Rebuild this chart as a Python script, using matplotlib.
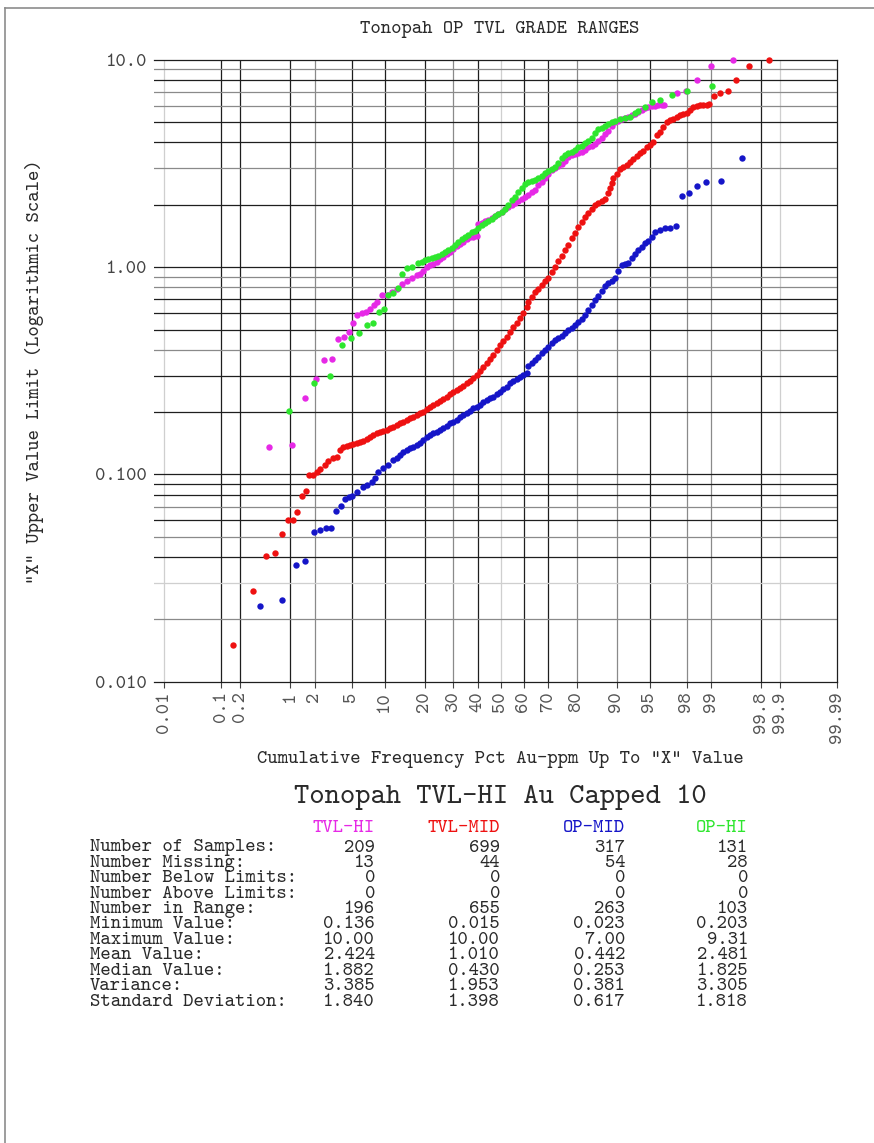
import math
import numpy as np
import matplotlib
matplotlib.use("Agg")
import matplotlib.pyplot as plt
from matplotlib.lines import Line2D

plt.rcParams['font.family'] = ['cmtt10', 'DejaVu Sans Mono']

# cumulative frequency (percent) and grade (Au ppm)
tvl_hi_pct = [0.52, 1.04, 1.52, 2.06, 2.55, 3.08, 3.57, 4.16, 4.67, 5.16,
              5.64, 6.21, 6.77, 7.41, 8.06, 8.61, 9.40, 10.36, 11.39, 12.50,
              13.67, 14.92, 16.24, 17.63, 18.59, 19.59, 20.64, 21.70, 22.78, 23.93,
              25.08, 26.25, 27.49, 28.73, 29.98, 31.30, 32.60, 33.93, 35.31, 36.68,
              38.06, 39.50, 40.18, 41.64, 43.07, 44.50, 45.99, 47.44, 48.90, 50.40,
              51.85, 53.30, 54.80, 56.23, 57.67, 59.13, 60.55, 61.94, 63.36, 64.73,
              66.08, 67.44, 68.74, 70.02, 71.31, 72.54, 73.75, 74.95, 76.10, 77.22,
              78.34, 79.39, 80.41, 81.43, 82.40, 83.32, 84.25, 85.11, 85.94, 86.76,
              87.53, 88.26, 88.99, 89.66, 90.30, 90.93, 91.51, 92.06, 92.60, 93.10,
              93.57, 94.03, 94.45, 94.85, 95.23, 95.58, 95.91, 96.23, 96.44, 97.45,
              97.95, 98.48, 98.98, 99.49]
tvl_hi_val = [0.136, 0.138, 0.234, 0.289, 0.357, 0.359, 0.449, 0.462, 0.488, 0.536,
              0.588, 0.603, 0.610, 0.628, 0.657, 0.682, 0.734, 0.734, 0.762, 0.782,
              0.830, 0.861, 0.884, 0.917, 0.930, 0.959, 1.002, 1.021, 1.036, 1.059,
              1.095, 1.124, 1.158, 1.191, 1.231, 1.266, 1.294, 1.328, 1.368, 1.394,
              1.407, 1.422, 1.617, 1.640, 1.666, 1.696, 1.722, 1.761, 1.800, 1.847,
              1.904, 1.947, 1.997, 2.049, 2.088, 2.128, 2.176, 2.232, 2.300, 2.366,
              2.493, 2.587, 2.685, 2.817, 2.955, 3.021, 3.069, 3.138, 3.255, 3.404,
              3.481, 3.519, 3.559, 3.610, 3.692, 3.791, 3.858, 3.954, 4.053, 4.217,
              4.379, 4.558, 4.803, 5.020, 5.105, 5.174, 5.250, 5.327, 5.410, 5.507,
              5.631, 5.737, 5.847, 5.912, 5.978, 6.018, 6.046, 6.066, 6.066, 6.906,
              7.085, 7.981, 9.324, 10.0]

tvl_mid_pct = [0.155, 0.31, 0.47, 0.63, 0.77, 0.93, 1.08, 1.23, 1.39, 1.55, 1.72, 1.88,
               2.09, 2.29, 2.60, 2.83, 3.21, 3.54, 3.78, 4.09, 4.43, 4.78,
               5.16, 5.56, 5.99, 6.43, 6.92, 7.41, 7.94, 8.51, 9.09, 9.70,
               10.37, 11.04, 11.74, 12.50, 13.26, 14.06, 14.92, 15.78, 16.68, 17.63,
               18.59, 19.58, 20.64, 21.70, 22.78, 23.93, 25.08, 26.25, 27.49, 28.73,
               29.98, 31.30, 32.60, 33.93, 35.31, 36.68, 38.06, 39.50, 40.91, 42.33,
               43.81, 45.25, 46.70, 48.19, 49.65, 51.10, 52.60, 54.05, 55.50, 56.97,
               58.40, 59.82, 61.27, 61.94, 63.36, 64.73, 66.08, 67.44, 68.74, 70.02,
               71.31, 72.54, 73.75, 74.95, 76.10, 77.22, 78.34, 79.39, 80.41, 81.43,
               82.40, 83.32, 84.25, 85.11, 85.94, 86.76, 87.53, 88.26, 88.63, 88.99,
               89.31, 89.99, 90.61, 91.21, 91.80, 92.34, 92.85, 93.35, 93.80, 94.24,
               94.66, 95.04, 95.40, 95.76, 96.08, 96.37, 96.66, 96.93, 97.17, 97.40,
               97.62, 97.82, 98.00, 98.17, 98.33, 98.48, 98.62, 98.74, 98.86, 98.94,
               99.08, 99.23, 99.40, 99.54, 99.70, 99.85]
tvl_mid_val = [0.015, 0.0275, 0.0402, 0.0419, 0.0517, 0.0602, 0.0602, 0.0657, 0.0789, 0.0834, 0.0993, 0.0993,
               0.1031, 0.1058, 0.111, 0.1161, 0.1196, 0.1218, 0.1312, 0.1361, 0.1371, 0.1387,
               0.1398, 0.1413, 0.1434, 0.1455, 0.1488, 0.1521, 0.155, 0.158, 0.1597, 0.1614,
               0.1643, 0.167, 0.170, 0.1732, 0.1765, 0.1785, 0.1825, 0.1866, 0.190, 0.1929,
               0.1973, 0.2008, 0.2062, 0.2115, 0.217, 0.2212, 0.2269, 0.232, 0.2371, 0.2436,
               0.249, 0.2554, 0.262, 0.268, 0.2752, 0.2833, 0.2929, 0.3028, 0.3145, 0.3288,
               0.3438, 0.3594, 0.377, 0.3985, 0.420, 0.4418, 0.4619, 0.4884, 0.5129, 0.5397,
               0.5667, 0.5991, 0.6446, 0.6815, 0.7203, 0.7566, 0.785, 0.818, 0.8551, 0.8899,
               0.945, 1.006, 1.068, 1.137, 1.207, 1.28, 1.379, 1.458, 1.569, 1.659,
               1.742, 1.821, 1.904, 1.997, 2.049, 2.088, 2.128, 2.274, 2.404, 2.541,
               2.685, 2.817, 2.968, 3.035, 3.113, 3.209, 3.340, 3.453, 3.570, 3.651,
               3.791, 3.902, 4.034, 4.345, 4.508, 4.749, 5.037, 5.117, 5.191, 5.308,
               5.428, 5.488, 5.531, 5.737, 5.951, 6.018, 6.066, 6.066, 6.066, 6.114,
               6.724, 6.906, 7.085, 7.981, 9.324, 10.0]

op_mid_pct = [0.385, 0.77, 1.17, 1.52, 1.96, 2.30, 2.69, 3.05, 3.45, 3.84,
              4.23, 4.67, 5.04, 5.64, 6.35, 6.92, 7.68, 8.22, 8.79, 9.70,
              10.7, 11.74, 12.50, 13.26, 14.06, 14.92, 15.78, 16.67, 17.63, 18.59,
              19.59, 20.64, 21.70, 22.78, 23.93, 25.08, 26.25, 27.49, 28.73, 29.98,
              31.30, 32.60, 33.93, 35.31, 36.68, 38.06, 39.50, 40.91, 42.33, 43.81,
              45.25, 46.70, 48.19, 49.65, 51.10, 52.60, 54.05, 55.50, 56.97, 58.40,
              59.82, 61.27, 61.94, 63.36, 64.73, 66.08, 67.44, 68.74, 70.02, 71.31,
              72.54, 73.75, 74.95, 76.10, 77.22, 78.34, 79.39, 80.41, 81.43, 82.40,
              83.32, 84.25, 85.11, 85.94, 86.76, 87.53, 88.26, 88.99, 89.66, 90.30,
              90.93, 91.51, 92.06, 92.60, 93.10, 93.57, 94.03, 94.45, 94.85, 95.23,
              95.58, 96.08, 96.52, 96.93, 97.34, 97.72, 98.12, 98.48, 98.84, 99.25, 99.616]
op_mid_val = [0.0231, 0.0249, 0.0366, 0.0383, 0.0525, 0.0541, 0.0549, 0.0549, 0.0666, 0.0704,
              0.0764, 0.078, 0.0786, 0.0825, 0.0867, 0.0889, 0.0923, 0.0958, 0.103, 0.107,
              0.111, 0.117, 0.1207, 0.1241, 0.1279, 0.1312, 0.1337, 0.1361, 0.1391, 0.1422,
              0.1466, 0.1521, 0.1555, 0.1585, 0.1611, 0.1638, 0.1675, 0.1713, 0.1765, 0.1797,
              0.1837, 0.1887, 0.1929, 0.1973, 0.2031, 0.2085, 0.2123, 0.2175, 0.2228, 0.2278,
              0.233, 0.2371, 0.2443, 0.2506, 0.2583, 0.265, 0.2752, 0.2814, 0.2877, 0.2942,
              0.3018, 0.3096, 0.3336, 0.3461, 0.3566, 0.3698, 0.3841, 0.3971, 0.4119, 0.432,
              0.4452, 0.4567, 0.467, 0.4797, 0.4976, 0.5105, 0.5244, 0.542, 0.5604, 0.5878,
              0.6234, 0.6568, 0.6944, 0.7261, 0.765, 0.8143, 0.842, 0.8608, 0.8841, 0.9618,
              1.021, 1.036, 1.051, 1.108, 1.162, 1.215, 1.256, 1.304, 1.343, 1.394,
              1.484, 1.512, 1.541, 1.551, 1.581, 2.199, 2.289, 2.474, 2.569, 2.616, 3.378]

op_hi_pct = [0.97, 1.96, 2.95, 3.94, 4.86, 5.89, 6.92, 7.94, 8.97, 9.84,
             10.69, 11.61, 12.87, 13.67, 14.92, 16.24, 18.09, 19.10, 20.11, 21.15,
             22.25, 23.35, 24.49, 25.68, 26.87, 28.09, 29.37, 30.64, 31.93, 33.28,
             34.62, 35.97, 37.39, 38.78, 40.18, 41.64, 43.07, 44.50, 45.99, 47.44,
             48.90, 50.40, 51.85, 53.30, 54.80, 56.23, 57.67, 59.13, 60.55, 61.94,
             63.36, 64.73, 66.08, 67.44, 68.74, 70.02, 71.31, 72.54, 73.75, 74.95,
             76.10, 77.22, 78.34, 79.39, 80.41, 81.43, 82.40, 83.32, 84.25, 85.11,
             85.94, 86.76, 87.53, 88.26, 88.99, 89.66, 90.61, 91.51, 92.34, 93.10,
             93.57, 94.45, 95.23, 96.08, 97.05, 98.04, 99.03]
op_hi_val = [0.203, 0.277, 0.2985, 0.4227, 0.4537, 0.483, 0.5244, 0.5398, 0.6079, 0.6262,
             0.7341, 0.7482, 0.791, 0.9273, 0.9878, 1.006, 1.051, 1.065, 1.083, 1.095,
             1.108, 1.120, 1.139, 1.158, 1.191, 1.217, 1.245, 1.280, 1.324, 1.361,
             1.400, 1.431, 1.471, 1.504, 1.555, 1.599, 1.635, 1.671, 1.718, 1.766,
             1.806, 1.847, 1.900, 1.986, 2.100, 2.189, 2.315, 2.412, 2.508, 2.564,
             2.606, 2.650, 2.710, 2.771, 2.849, 2.913, 2.978, 3.045, 3.183, 3.365,
             3.481, 3.559, 3.618, 3.699, 3.783, 3.867, 3.976, 4.088, 4.217, 4.443,
             4.645, 4.723, 4.803, 4.884, 4.994, 5.105, 5.191, 5.278, 5.327, 5.519,
             5.673, 5.965, 6.291, 6.411, 6.777, 7.085, 7.489]

series_names = ["TVL-HI", "TVL-MID", "OP-MID", "OP-HI"]
series_colors = ["#e629e6", "#ee1111", "#1515c8", "#2ee62e"]

pct_ticks = [0.01, 0.1, 0.2, 1, 2, 5, 10, 20, 30, 40, 50, 60, 70, 80, 90, 95, 98, 99, 99.8, 99.9, 99.99]
pct_labels = ["0.01", "0.1", "0.2", "1", "2", "5", "10", "20", "30", "40", "50", "60", "70",
              "80", "90", "95", "98", "99", "99.8", "99.9", "99.99"]
val_ticks = [0.01, 0.1, 1, 10]
val_labels = ["0.010", "0.100", "1.00", "10.0"]

stat_labels = ["Number of Samples:", "Number Missing:", "Number Below Limits:",
               "Number Above Limits:", "Number in Range:", "Minimum Value:",
               "Maximum Value:", "Mean Value:", "Median Value:", "Variance:",
               "Standard Deviation:"]
tvl_hi_stats = ["209", "13", "0", "0", "196", "0.136", "10.00", "2.424", "1.882", "3.385", "1.840"]
tvl_mid_stats = ["699", "44", "0", "0", "655", "0.015", "10.00", "1.010", "0.430", "1.953", "1.398"]
op_mid_stats = ["317", "54", "0", "0", "263", "0.023", "7.00", "0.442", "0.253", "0.381", "0.617"]
op_hi_stats = ["131", "28", "0", "0", "103", "0.203", "9.31", "2.481", "1.825", "3.305", "1.818"]


def ndtri(p):
    # inverse normal cdf (Acklam)
    p = np.atleast_1d(np.asarray(p, dtype=float))
    shape = p.shape
    p = np.clip(p.ravel(), 1e-12, 1 - 1e-12)
    a = [-3.969683028665376e+01, 2.209460984245205e+02, -2.759285104469687e+02,
         1.383577518672690e+02, -3.066479806614716e+01, 2.506628277459239e+00]
    b = [-5.447609879822406e+01, 1.615858368580409e+02, -1.556989798598866e+02,
         6.680131188771972e+01, -1.328068155288572e+01]
    c = [-7.784894002430293e-03, -3.223964580411365e-01, -2.400758277161838e+00,
         -2.549732539343734e+00, 4.374664141464968e+00, 2.938163982698783e+00]
    d = [7.784695709041462e-03, 3.224671290700398e-01, 2.445134137142996e+00,
         3.754408661907416e+00]
    z = np.zeros_like(p)
    lo = p < 0.02425
    hi = p > 1 - 0.02425
    mid = ~(lo | hi)
    q = np.sqrt(-2 * np.log(p[lo]))
    z[lo] = (((((c[0]*q+c[1])*q+c[2])*q+c[3])*q+c[4])*q+c[5]) / ((((d[0]*q+d[1])*q+d[2])*q+d[3])*q+1)
    q = p[mid] - 0.5
    r = q * q
    z[mid] = (((((a[0]*r+a[1])*r+a[2])*r+a[3])*r+a[4])*r+a[5])*q / (((((b[0]*r+b[1])*r+b[2])*r+b[3])*r+b[4])*r+1)
    q = np.sqrt(-2 * np.log(1 - p[hi]))
    z[hi] = -(((((c[0]*q+c[1])*q+c[2])*q+c[3])*q+c[4])*q+c[5]) / ((((d[0]*q+d[1])*q+d[2])*q+d[3])*q+1)
    return z.reshape(shape)


_erf = np.vectorize(math.erf)


def prob_forward(x):
    return ndtri(np.asarray(x, dtype=float) / 100.0)


def prob_inverse(z):
    z = np.asarray(z, dtype=float)
    return 50.0 * (1 + _erf(z / math.sqrt(2)))


W, H = 874, 1143
fig = plt.figure(figsize=(W / 100, H / 100), dpi=100)
fig.patch.set_facecolor("white")


def fx(px):
    return px / W


def fy(py):
    return 1 - py / H


ax = fig.add_axes([fx(154), fy(681.7), fx(837.3) - fx(154), fy(60) - fy(681.7)])
ax.set_xscale("function", functions=(prob_forward, prob_inverse))
ax.set_yscale("log")
ax.set_xlim(0.00633, 99.99)
ax.set_ylim(0.01, 10)

# grid, drawn by hand to mimic the mixed line weights of the original
dark, grey, light = "#1e1e1e", "#8a8a8a", "#cfcfcf"
x_grid = {0.01: light, 0.1: dark, 0.2: dark, 1: dark, 2: grey, 5: dark, 10: dark, 20: dark,
          30: grey, 40: dark, 50: light, 60: dark, 70: dark, 80: grey, 90: grey, 95: dark,
          98: grey, 99: grey, 99.8: dark, 99.9: light}
y_grid = {9: grey, 8: dark, 7: grey, 6: grey, 5: dark, 4: dark, 3: grey, 2: dark, 1: dark,
          0.9: grey, 0.8: grey, 0.7: dark, 0.6: dark, 0.5: dark, 0.4: grey, 0.3: dark,
          0.2: dark, 0.1: dark, 0.09: dark, 0.08: dark, 0.07: grey, 0.06: dark, 0.05: grey,
          0.04: dark, 0.03: light, 0.02: grey}
for v, col in x_grid.items():
    ax.axvline(v, color=col, lw=0.9, zorder=1)
for v, col in y_grid.items():
    ax.axhline(v, color=col, lw=0.9, zorder=1)

for sp in ["top", "right", "bottom"]:
    ax.spines[sp].set_color(dark)
    ax.spines[sp].set_linewidth(0.9)
ax.spines["left"].set_visible(False)

pcts = [tvl_hi_pct, tvl_mid_pct, op_mid_pct, op_hi_pct]
vals = [tvl_hi_val, tvl_mid_val, op_mid_val, op_hi_val]
for p, v, col in zip(pcts, vals, series_colors):
    ax.plot(p, v, "o", color=col, ms=4.6, mew=0, zorder=3, clip_on=False)

fs = 14.2
ax.set_xticks(pct_ticks)
ax.set_xticklabels(pct_labels, rotation=90)
ax.xaxis.set_minor_locator(matplotlib.ticker.NullLocator())
ax.set_yticks(val_ticks)
ax.set_yticklabels(val_labels)
ax.yaxis.set_minor_locator(matplotlib.ticker.NullLocator())
ax.tick_params(axis="x", direction="out", length=4, width=0.8, color="#444",
               labelsize=fs, labelcolor="#555", pad=3)
ax.tick_params(axis="y", length=0, labelsize=fs, labelcolor="#444", pad=5)

txt = "#2a2a2a"
fig.text(fx(500), fy(29), "Tonopah OP TVL GRADE RANGES", ha="center", va="center",
         fontsize=fs, color=txt)
fig.text(fx(500), fy(759), 'Cumulative Frequency Pct Au-ppm Up To "X" Value',
         ha="center", va="center", fontsize=fs, color=txt)
fig.text(fx(35), fy(372), '"X" Upper Value Limit (Logarithmic Scale)', rotation=90,
         ha="center", va="center", fontsize=fs, color=txt)

fig.text(fx(500), fy(797), "Tonopah TVL-HI Au Capped 10", ha="center", va="center",
         fontsize=21, color=txt)

col_right = [375, 500, 625, 748]
columns = [tvl_hi_stats, tvl_mid_stats, op_mid_stats, op_hi_stats]
for name, col, xr in zip(series_names, series_colors, col_right):
    fig.text(fx(xr), fy(828), name, ha="right", va="center", fontsize=fs, color=col)
for i, lab in enumerate(stat_labels):
    yy = 848 + 15.4 * i
    fig.text(fx(90), fy(yy), lab, ha="left", va="center", fontsize=fs, color=txt)
    for stats, xr in zip(columns, col_right):
        fig.text(fx(xr), fy(yy), stats[i], ha="right", va="center", fontsize=fs, color=txt)

# page frame
fig.add_artist(Line2D([fx(5), fx(874)], [fy(8), fy(8)], color="#8c8c8c", lw=1.2))
fig.add_artist(Line2D([fx(5), fx(5)], [fy(8), fy(1143)], color="#8c8c8c", lw=1.2))

fig.savefig("out.png", dpi=100)
